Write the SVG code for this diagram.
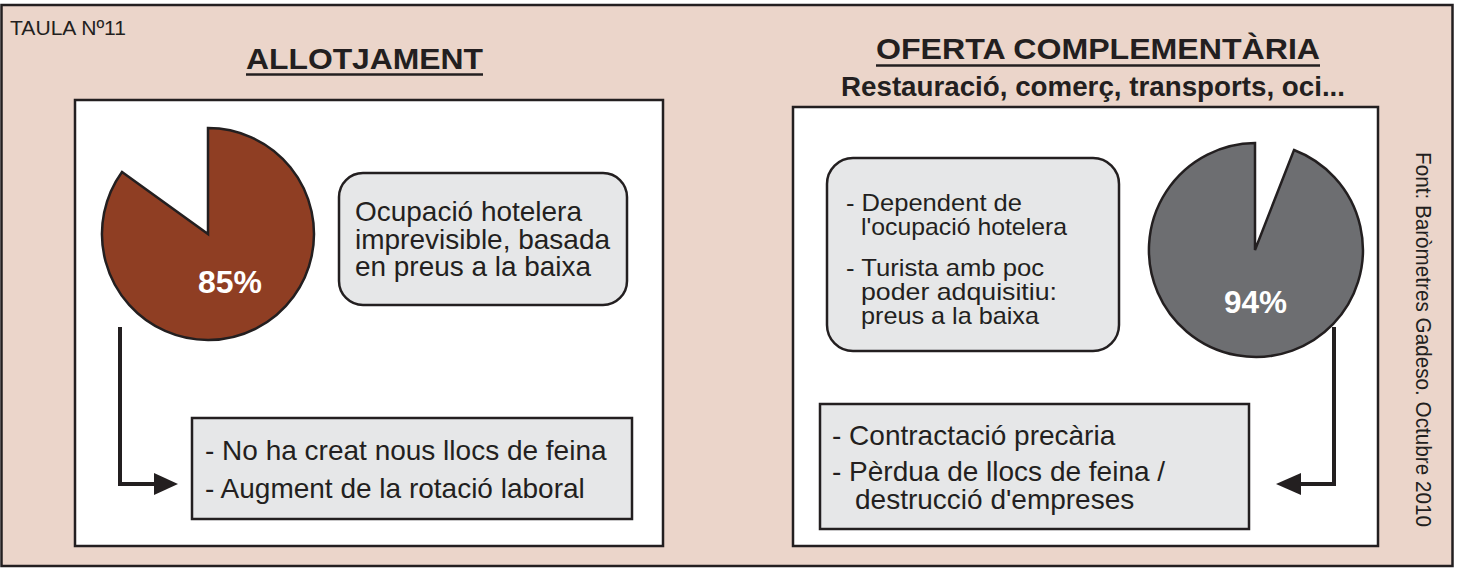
<svg xmlns="http://www.w3.org/2000/svg" width="1457" height="569" viewBox="0 0 1457 569">
<defs>
<style>
.frame{fill:#ebd5ca;stroke:#231f20;stroke-width:2.5}
.panel{fill:#ffffff;stroke:#231f20;stroke-width:2.5}
.box{fill:#e6e7e8;stroke:#231f20;stroke-width:2.5}
.t{font-family:"Liberation Sans",Arial,Helvetica,sans-serif;fill:#231f20}
.title{font-weight:bold;font-size:30px}
.pct{font-family:"Liberation Sans",Arial,Helvetica,sans-serif;font-weight:bold;font-size:32px;fill:#ffffff}
.conn{fill:none;stroke:#231f20;stroke-width:4}
.head{fill:#231f20}
.ul{stroke:#231f20;stroke-width:2.5}
</style>
</defs>
<rect class="frame" x="1.5" y="5" width="1451" height="561"/>
<text class="t" x="10" y="35" font-size="20" textLength="116" lengthAdjust="spacingAndGlyphs">TAULA Nº11</text>

<g id="title-allotjament">
<text class="t title" x="246" y="69" textLength="237" lengthAdjust="spacingAndGlyphs">ALLOTJAMENT</text>
<line class="ul" x1="246" y1="74.5" x2="483" y2="74.5"/>
</g>
<g id="title-oferta">
<text class="t title" x="876" y="59" textLength="444" lengthAdjust="spacingAndGlyphs">OFERTA COMPLEMENTÀRIA</text>
<line class="ul" x1="876" y1="65.5" x2="1320" y2="65.5"/>
<text class="t" x="841" y="96" font-size="27" font-weight="bold" textLength="504" lengthAdjust="spacingAndGlyphs">Restauració, comerç, transports, oci...</text>
</g>

<g id="panel-left">
<rect class="panel" x="75" y="100" width="588" height="446"/>
</g>
<g id="panel-right">
<rect class="panel" x="793" y="107" width="585" height="439"/>
</g>

<g id="pie-85">
<path d="M208,234 L208,128 A106,106 0 1,1 122,172 Z" fill="#8f3e23" stroke="#231f20" stroke-width="2.5"/>
<text class="pct" x="198" y="293" textLength="64" lengthAdjust="spacingAndGlyphs">85%</text>
</g>

<g id="box-ocupacio">
<rect class="box" x="339" y="173" width="288" height="132" rx="24"/>
<text class="t" font-size="27.5">
<tspan x="355" y="221" textLength="227" lengthAdjust="spacingAndGlyphs">Ocupació hotelera</tspan>
<tspan x="355" y="248.5" textLength="255" lengthAdjust="spacingAndGlyphs">imprevisible, basada</tspan>
<tspan x="355" y="276" textLength="236" lengthAdjust="spacingAndGlyphs">en preus a la baixa</tspan>
</text>
</g>

<g id="box-efectes-allotjament">
<rect class="box" x="192" y="418" width="440" height="101"/>
<text class="t" font-size="28">
<tspan x="205" y="460">- No ha creat nous llocs de feina</tspan>
<tspan x="205" y="498">- Augment de la rotació laboral</tspan>
</text>
</g>

<g id="box-dependent">
<rect class="box" x="827" y="158" width="292" height="193" rx="26"/>
<text class="t" font-size="24">
<tspan x="846" y="211" textLength="176" lengthAdjust="spacingAndGlyphs">- Dependent de</tspan>
<tspan x="861" y="235" textLength="206" lengthAdjust="spacingAndGlyphs">l'ocupació hotelera</tspan>
<tspan x="846" y="276" textLength="198" lengthAdjust="spacingAndGlyphs">- Turista amb poc</tspan>
<tspan x="861" y="300" textLength="196" lengthAdjust="spacingAndGlyphs">poder adquisitiu:</tspan>
<tspan x="861" y="324" textLength="178" lengthAdjust="spacingAndGlyphs">preus a la baixa</tspan>
</text>
</g>

<g id="pie-94">
<path d="M1255,250 L1294,150 A107,107 0 1,1 1255,143 Z" fill="#6d6e71" stroke="#231f20" stroke-width="2.5"/>
<text class="pct" x="1224" y="313" textLength="63" lengthAdjust="spacingAndGlyphs">94%</text>
</g>

<g id="box-efectes-oferta">
<rect class="box" x="820" y="404" width="429" height="125"/>
<text class="t" font-size="28">
<tspan x="832" y="445">- Contractació precària</tspan>
<tspan x="832" y="481">- Pèrdua de llocs de feina /</tspan>
<tspan x="855" y="509">destrucció d'empreses</tspan>
</text>
</g>

<g id="connectors">
<polyline class="conn" points="120,327 120,484 156,484"/>
<polygon class="head" points="154,473 178,484 154,495"/>
<polyline class="conn" points="1334,327 1334,484 1299,484"/>
<polygon class="head" points="1301,473 1276,484 1301,495"/>
</g>

<g id="source">
<text class="t" font-size="22" transform="translate(1416,152) rotate(90)" textLength="375" lengthAdjust="spacingAndGlyphs">Font: Baròmetres Gadeso. Octubre 2010</text>
</g>
</svg>
